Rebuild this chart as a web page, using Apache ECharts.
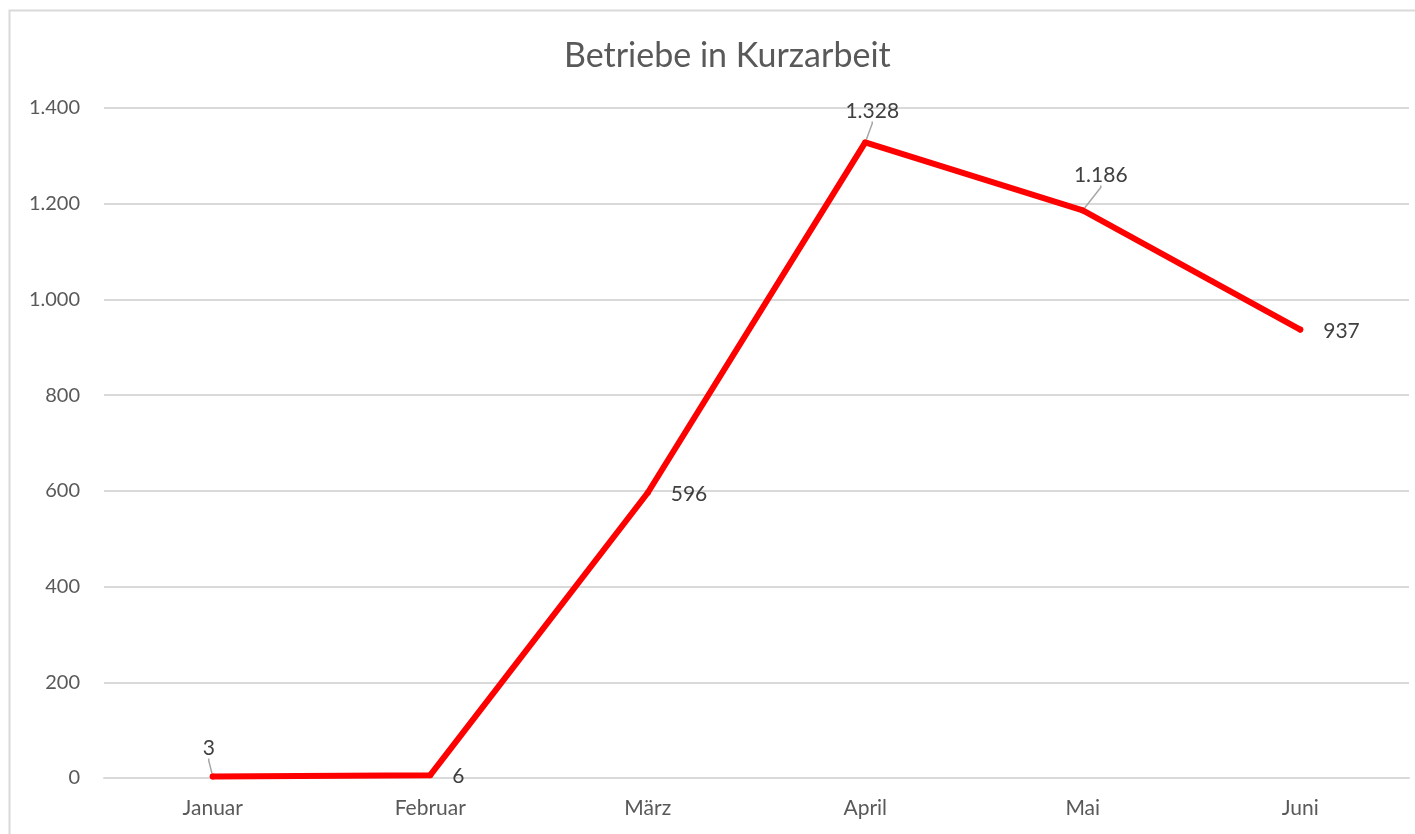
<!DOCTYPE html>
<html>
<head>
<meta charset="utf-8">
<title>Betriebe in Kurzarbeit</title>
<script src="https://cdn.jsdelivr.net/npm/echarts@6/dist/echarts.min.js"></script>
<style>
  html, body { margin: 0; padding: 0; background: #fff; }
  #chart { width: 1415px; height: 834px; }
</style>
</head>
<body>
<div id="chart"></div>
<script>
// Monate
var months = ['Januar', 'Februar', 'März', 'April', 'Mai', 'Juni']
// Betriebe in Kurzarbeit je Monat
var betriebe = [3, 6, 596, 1328, 1186, 937]
// Y-Achse
var yTicks = [0, 200, 400, 600, 800, 1000, 1200, 1400]

// Platzierung der Datenbeschriftungen (wie im Original)
var labelPlacement = [
  { position: 'top', distance: 10, dx: -4, dy: -5, line: true },
  { position: 'right', distance: 19, dx: 0, dy: 1, line: false },
  { position: 'right', distance: 20, dx: 0, dy: 1, line: false },
  { position: 'top', distance: 18, dx: 7, dy: 0, line: true },
  { position: 'top', distance: 24, dx: 18, dy: 2, line: true },
  { position: 'right', distance: 20, dx: 0, dy: 2, line: false }
]

function formatDe(v) {
  return String(v).replace(/\B(?=(\d{3})+(?!\d))/g, '.')
}

var font = 'Lato, "Open Sans", sans-serif'

var chart = echarts.init(document.getElementById('chart'))

chart.setOption({
  animation: false,
  backgroundColor: '#fff',
  textStyle: { fontFamily: font },
  title: {
    text: 'Betriebe in Kurzarbeit',
    left: 559,
    top: 34,
    textStyle: {
      fontFamily: font,
      fontSize: 34,
      fontWeight: 'normal',
      color: '#595959'
    }
  },
  graphic: [
    {
      type: 'rect',
      shape: { x: 9.5, y: 10.5, width: 1420, height: 840 },
      style: { fill: 'none', stroke: '#d9d9d9', lineWidth: 2 },
      silent: true,
      z: -1
    }
  ],
  grid: {
    left: 104,
    right: 6,
    top: 108,
    bottom: 56,
    containLabel: false
  },
  xAxis: {
    type: 'category',
    data: months,
    boundaryGap: true,
    axisLine: { lineStyle: { color: '#d9d9d9', width: 2 } },
    axisTick: { show: false },
    axisLabel: {
      color: '#595959',
      fontSize: 21,
      fontFamily: font,
      margin: 20
    }
  },
  yAxis: {
    type: 'value',
    min: yTicks[0],
    max: yTicks[yTicks.length - 1],
    interval: yTicks[1] - yTicks[0],
    axisLine: { show: false },
    axisTick: { show: false },
    splitLine: { lineStyle: { color: '#d9d9d9', width: 2 } },
    axisLabel: {
      color: '#595959',
      fontSize: 20,
      fontFamily: font,
      margin: 24,
      formatter: function (v) { return formatDe(v) }
    }
  },
  series: [
    {
      name: 'Betriebe',
      type: 'line',
      data: betriebe.map(function (v, i) {
        var p = labelPlacement[i]
        return {
          value: v,
          label: { position: p.position, distance: p.distance },
          labelLine: { show: p.line }
        }
      }),
      symbol: 'circle',
      symbolSize: 6,
      showSymbol: true,
      itemStyle: { color: '#ff0000' },
      lineStyle: { color: '#ff0000', width: 6, cap: 'round', join: 'round' },
      label: {
        show: true,
        color: '#404040',
        fontSize: 21,
        fontFamily: font,
        formatter: function (p) { return formatDe(p.value) }
      },
      labelLine: {
        show: true,
        length2: 2,
        lineStyle: { color: '#a6a6a6', width: 1.5 }
      },
      // Verschiebung über labelLayout, damit die Führungslinien gezeichnet werden
      labelLayout: function (params) {
        var p = labelPlacement[params.dataIndex]
        return { dx: p.dx, dy: p.dy }
      }
    }
  ]
})
</script>
</body>
</html>
